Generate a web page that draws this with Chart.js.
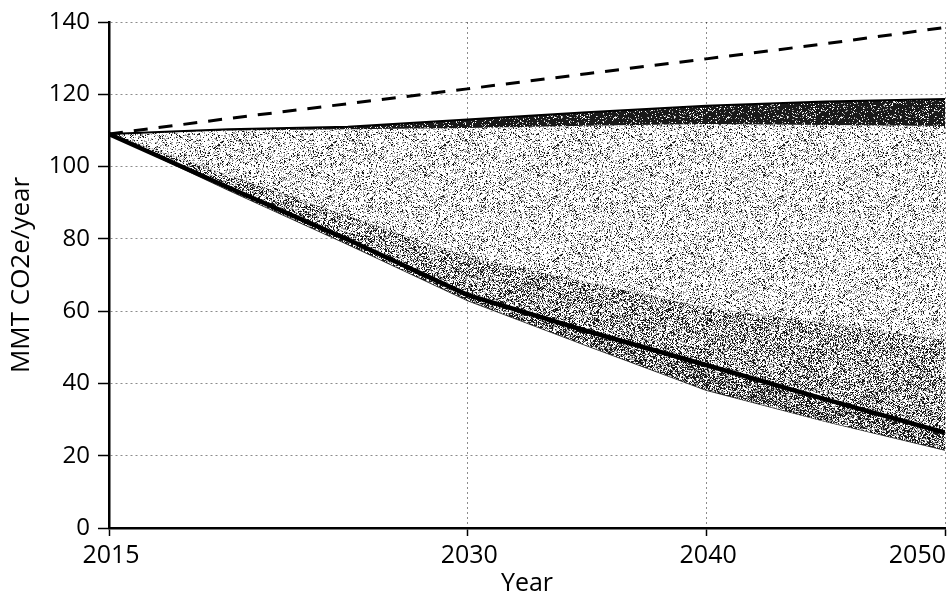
<!DOCTYPE html>
<html lang="en">
<head>
<meta charset="UTF-8">
<title>Emission pathways</title>
<script src="https://cdn.jsdelivr.net/npm/chart.js@4.4.0/dist/chart.umd.min.js"></script>
<style>
  html, body { margin: 0; padding: 0; background: #fff; }
  #wrap { width: 947px; height: 594px; position: relative; }
</style>
</head>
<body>
<div id="wrap"><canvas id="chart"></canvas></div>
<script>
// values (MMT CO2e/year)
const years        = [2015, 2020, 2025, 2030, 2035, 2040, 2045, 2050];
const reference    = [109, 113.3, 117.4, 121.5, 125.7, 129.8, 134, 138.5];   // dashed
const topUpper     = [109, 110.3, 111, 113, 115, 116.8, 118, 118.7];
const topLower     = [109, 110, 110.3, 110.7, 111.3, 111.8, 111.5, 111.2];
const midUpper     = [109, 97.7, 86.3, 75, 68, 61, 56.5, 52];
const centralPath  = [109, 94.2, 79.8, 64.5, 54.5, 45.1, 35.6, 26.4];        // thick line
const lowPath      = [109, 93.5, 78.5, 63, 50.5, 38.2, 29.5, 21.6];
const xTickYears   = [2015, 2030, 2040, 2050];

const FONT = '"Open Sans", "Noto Sans", sans-serif';

function pts(vals) {
    return years.map((y, i) => ({ x: y, y: vals[i] }));
}

// printed stipple texture, deterministic so every render is the same
function stipple(dark, grey) {
    const size = 113;
    const c = document.createElement('canvas');
    c.width = size; c.height = size;
    const g = c.getContext('2d');
    const img = g.createImageData(size, size);
    for (let i = 0; i < size * size; i++) {
        let h = Math.imul(i + 1, 2654435761) >>> 0;
        h ^= h >>> 15; h = Math.imul(h, 0x2c1b3c6d) >>> 0;
        h ^= h >>> 12; h = Math.imul(h, 0x297a2d39) >>> 0;
        h ^= h >>> 15;
        const r = (h >>> 0) / 4294967296;
        const v = r < dark ? 25 : (r < dark + grey ? 160 : 255);
        img.data[i * 4] = v; img.data[i * 4 + 1] = v; img.data[i * 4 + 2] = v; img.data[i * 4 + 3] = 255;
    }
    g.putImageData(img, 0, 0);
    return g.createPattern(c, 'repeat');
}

const xLabels = {
    id: 'xLabels',
    afterDraw(chart) {
        const ctx = chart.ctx, sx = chart.scales.x;
        ctx.save();
        ctx.font = '25px ' + FONT;
        ctx.fillStyle = '#000';
        ctx.textAlign = 'center';
        ctx.textBaseline = 'alphabetic';
        xTickYears.forEach(v => {
            const t = String(v);
            const w = ctx.measureText(t).width;
            const px = Math.min(sx.getPixelForValue(v) + 2, chart.width - w / 2 - 1);
            ctx.fillText(t, px, sx.top + 35);
        });
        ctx.restore();
    }
};

new Chart(document.getElementById('chart'), {
    type: 'line',
    data: {
        datasets: [
            { data: pts(reference), borderColor: '#000', borderWidth: 3, borderDash: [14, 11], fill: false },
            { data: pts(centralPath), borderColor: '#000', borderWidth: 4.5, fill: { target: 5 }, backgroundColor: stipple(0.45, 0.25) },
            { data: pts(topUpper), borderColor: '#000', borderWidth: 2, fill: { target: 3 }, backgroundColor: stipple(0.85, 0.08) },
            { data: pts(topLower), borderColor: 'rgba(0,0,0,0)', borderWidth: 0, fill: { target: 4 }, backgroundColor: stipple(0.11, 0.2) },
            { data: pts(midUpper), borderColor: 'rgba(0,0,0,0.35)', borderWidth: 1, fill: { target: 1 }, backgroundColor: stipple(0.3, 0.25) },
            { data: pts(lowPath), borderColor: '#222', borderWidth: 1.5, fill: false }
        ]
    },
    options: {
        responsive: true,
        maintainAspectRatio: false,
        animation: false,
        layout: { padding: { top: 22, right: 2, left: 0, bottom: 0 } },
        elements: { point: { radius: 0 }, line: { tension: 0 } },
        plugins: { legend: { display: false }, tooltip: { enabled: false } },
        scales: {
            x: {
                type: 'linear',
                min: 2015,
                max: 2050,
                z: 1,
                afterBuildTicks: s => { s.ticks = xTickYears.map(v => ({ value: v })); },
                afterFit: s => { s.height = 66; s.paddingLeft = 0; s.paddingRight = 0; },
                ticks: { display: false },
                border: { color: '#000', width: 2.5, dash: [2, 3] },
                grid: {
                    color: 'rgba(0,0,0,0.45)', lineWidth: 1,
                    tickColor: '#000', tickWidth: 1.5, tickLength: 8, tickBorderDash: []
                },
                title: { display: true, text: 'Year', color: '#000', font: { family: FONT, size: 25 }, padding: { top: 0, bottom: -5 } }
            },
            y: {
                min: 0,
                max: 140,
                z: 1,
                afterFit: s => { s.width = 109; s.paddingTop = 0; s.paddingBottom = 0; },
                ticks: { stepSize: 20, color: '#000', padding: 8, font: { family: FONT, size: 24 } },
                border: { color: '#000', width: 2.5, dash: [2, 3] },
                grid: {
                    color: 'rgba(0,0,0,0.45)', lineWidth: 1,
                    tickColor: '#000', tickWidth: 1.5, tickLength: 11, tickBorderDash: []
                },
                title: { display: true, text: 'MMT CO2e/year', color: '#000', font: { family: FONT, size: 26 }, padding: { top: 6, bottom: 0 } }
            }
        }
    },
    plugins: [xLabels]
});
</script>
</body>
</html>
